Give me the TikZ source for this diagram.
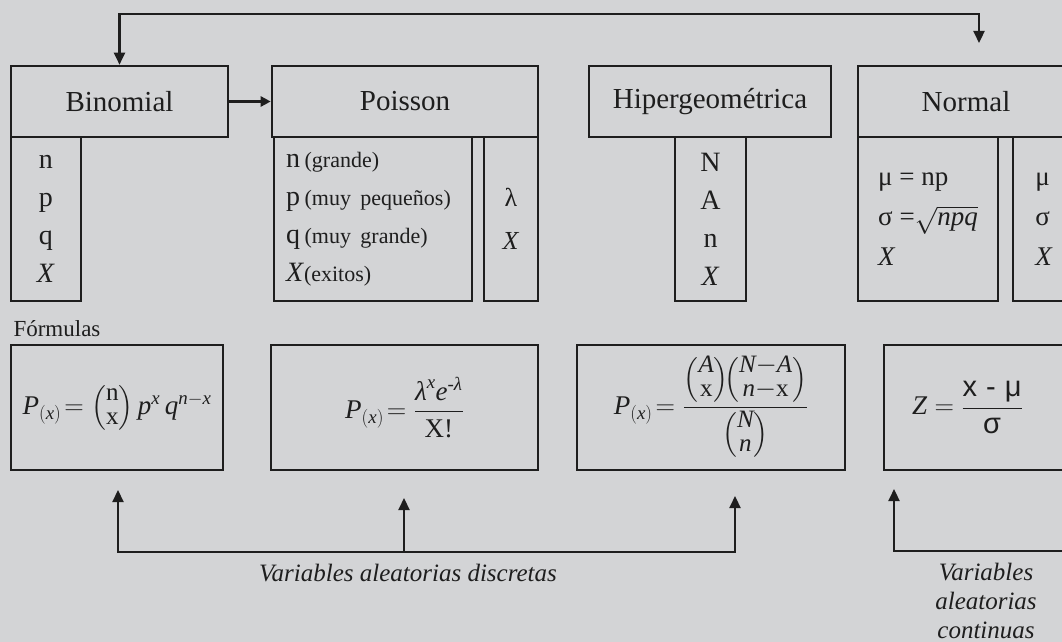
\RequirePackage{fix-cm}
\documentclass[tikz,border=0pt]{standalone}
\usepackage{amsmath}
\usepackage{fontspec}
\setmainfont{Liberation Serif}
\newfontfamily\sansf{Liberation Sans}
\usetikzlibrary{arrows.meta}
\definecolor{bg}{HTML}{D3D4D6}
\definecolor{ink}{HTML}{1E1E1E}
\newcommand{\ti}[1]{\text{\itshape #1}}
\newcommand{\tu}[1]{\text{#1}}
\newcommand{\be}[1]{\text{\fontsize{25}{25}\selectfont #1}}
\newcommand{\bnm}[2]{{\renewcommand{\arraystretch}{0.8}\left(\begin{array}{@{}c@{}}#1\\#2\end{array}\right)}}
\begin{document}
\begin{tikzpicture}[x=1pt,y=-1pt,
  box/.style={draw=ink, line width=2.6pt, inner sep=0pt, text=ink},
  hdr/.style={box, minimum height=71pt, font=\fontsize{29}{31}\selectfont},
  subbox/.style={box, minimum height=164pt, align=center, font=\fontsize{28}{38}\selectfont},
  fbox/.style={box, minimum height=125pt, font=\fontsize{27}{30}\selectfont},
  conn/.style={draw=ink, line width=2.2pt},
  tipa/.style={-{Triangle[length=12pt,width=11pt]}},
  tipb/.style={{Triangle[length=12pt,width=11pt]}-{Triangle[length=12pt,width=11pt]}},
  lbl/.style={text=ink, font=\fontsize{25}{29}\selectfont\itshape, align=center}]
\useasboundingbox (0,0) rectangle (1062,642);
\fill[bg] (0,0) rectangle (1062,642);
\begin{scope}
\clip (0,0) rectangle (1062,642);
% header boxes
\node[hdr, minimum width=217pt] (bin) at (119.5,101.5) {Binomial};
\node[hdr, minimum width=266pt] (poi) at (405,101.5) {Poisson};
\node[hdr, minimum width=242pt] (hip) at (710,101.5) {Hipergeométrica};
\node[hdr, minimum width=216pt] (nor) at (966,101.5) {Normal};
% sub boxes
\node[subbox, minimum width=70pt] (binS) at (46,219) {n\\p\\q\\\textit{X}};
\node[subbox, minimum width=198pt, text width=174pt, align=left] (poiS1) at (373,219)
  {n\,{\fontsize{22}{38}\selectfont(grande)}\\
   p\,{\fontsize{22}{38}\selectfont(muy pequeños)}\\
   q\,{\fontsize{22}{38}\selectfont(muy grande)}\\
   \textit{X}{\fontsize{22}{38}\selectfont(exitos)}};
\node[subbox, minimum width=54pt, font=\fontsize{26}{43}\selectfont] (poiS2) at (511,219) {λ\\\textit{X}};
\node[subbox, minimum width=71pt] (hipS) at (710.5,219) {N\\A\\n\\\textit{X}};
\node[subbox, minimum width=140pt, align=left, font=\fontsize{27}{40}\selectfont] (norS1) at (928,219)
  {μ = np\\σ =$\sqrt{\ti{npq}}$\\\textit{X}};
\node[subbox, minimum width=62pt, align=left, font=\fontsize{27}{40}\selectfont] (norS2) at (1044,219)
  {μ\\σ\\\textit{X}};
% label
\node[text=ink, font=\fontsize{23}{26}\selectfont, anchor=base west] (form) at (10,336) {Fórmulas};
% formula boxes
\node[fbox, minimum width=212pt] (f1) at (117,407.5)
  {$\ti{P}_{(\ti{x})}\!=\bnm{\be{n}}{\be{x}}\,\ti{p}^{\ti{x}}\,\ti{q}^{\ti{n}-\ti{x}}$};
\node[fbox, minimum width=267pt] (f2) at (404.5,407.5)
  {$\ti{P}_{(\ti{x})}\!= \dfrac{\ti{λ}^{\ti{x}}\ti{e}^{\text{-}\ti{λ}}}{\tu{X!}}$};
\node[fbox, minimum width=268pt] (f3) at (711,407.5)
  {$\ti{P}_{(\ti{x})}\!= \dfrac{\bnm{\be{\itshape A}}{\be{x}}\!\bnm{\be{\itshape N}{-}\be{\itshape A}}{\be{\itshape n}{-}\be{x}}}{\bnm{\be{\itshape N}}{\be{\itshape n}}}$};
\node[fbox, minimum width=220pt, text width=164pt, align=left] (f4) at (994,407.5)
  {\raisebox{-11pt}{$\ti{Z} = \dfrac{\text{\sansf\fontsize{29}{29}\selectfont x - μ}}{\text{\sansf\fontsize{29}{29}\selectfont σ}}$}};
% connectors
\coordinate (topR) at (979,43);
\draw[conn, tipb] (topR) -- ++(0,-29) -| (bin.north);
\draw[conn, line width=3pt, -{Triangle[length=10pt,width=10pt]}] (bin.east) -- (poi.west);
\coordinate (a1) at (118,490);
\coordinate (a2) at (404,498);
\coordinate (a3) at (735,496);
\coordinate (a4) at (894,489);
\coordinate (d1) at (118,552);
\coordinate (d3) at (735,552);
\coordinate (e4) at (1075,551);
\draw[conn, tipb] (a1) -- (d1) -- (d3) -- (a3);
\draw[conn, tipa] (a2 |- d1) -- (a2);
\draw[conn, tipa] (e4) -| (a4);
\node[lbl] (disc) at (408,573) {Variables aleatorias discretas};
\node[lbl] (cont) at (986,601) {Variables\\aleatorias\\continuas};
\end{scope}
\end{tikzpicture}
\end{document}
